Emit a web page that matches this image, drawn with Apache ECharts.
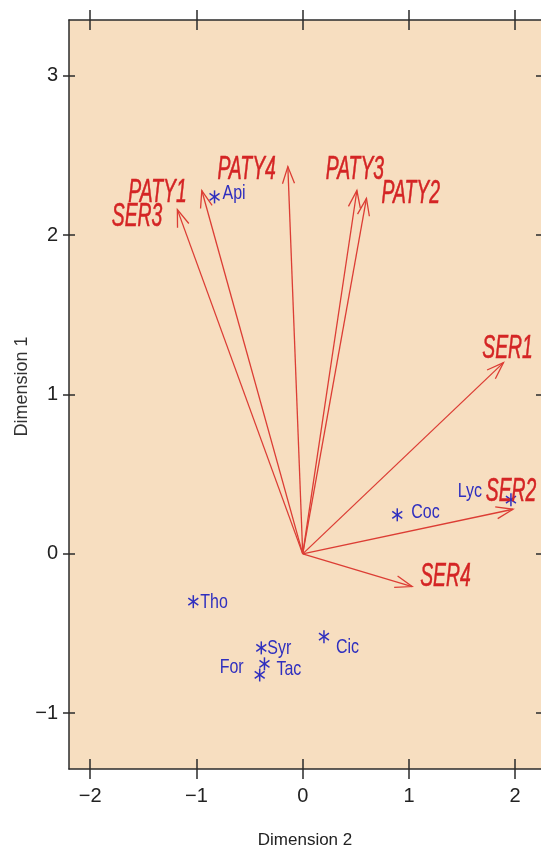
<!DOCTYPE html>
<html><head><meta charset="utf-8">
<script src="https://cdn.jsdelivr.net/npm/echarts@6/dist/echarts.min.js"></script>
<style>html,body{margin:0;padding:0;background:#fff}#c{width:541px;height:850px}</style>
</head><body><div id="c"></div>
<script>
// Variables (arrows): Dimension 2 = x, Dimension 1 = y
const varNames = ['SER1','SER2','SER3','SER4','PATY1','PATY2','PATY3','PATY4'];
const varDim2 = [1.89, 1.98, -1.18, 1.03, -0.95, 0.60, 0.51, -0.14];
const varDim1 = [1.20, 0.28, 2.16, -0.205, 2.28, 2.23, 2.28, 2.43];
// Species (points)
const spNames = ['Api','Tho','Syr','Tac','For','Cic','Coc','Lyc'];
const spDim2 = [-0.83, -1.03, -0.39, -0.36, -0.405, 0.20, 0.89, 1.96];
const spDim1 = [2.24, -0.30, -0.59, -0.69, -0.76, -0.52, 0.245, 0.34];
// Tick labels
const xTicks = [-2, -1, 0, 1, 2];
const yTicks = [-1, 0, 1, 2, 3];

// ---- styling / layout ----
const RED = '#dc3d34', RED_T = '#d42424', BLUE = '#2f2fbf', AX = '#2b2b2b';
const SANS = "'Liberation Sans',Arial,sans-serif";
const varLabelPos = {
  SER1: [4, -14, 'center'], SER2: [-2, -17, 'center'], SER3: [-15, 7, 'right'], SER4: [8, -10, 'left'],
  PATY1: [-15, 2, 'right'], PATY2: [15, -5, 'left'], PATY3: [-2, -21, 'center'], PATY4: [-12, 3, 'right']
};
const spLabelPos = {
  Api: [8, -4, 'left'], Tho: [7, 1, 'left'], Syr: [6, 0, 'left'], Tac: [12, 5, 'left'],
  For: [-16, -8, 'right'], Cic: [12, 11, 'left'], Coc: [14, -3, 'left'], Lyc: [-29, -8, 'right']
};
const X_MIN = -2.2, X_MAX = 2.243, Y_MIN = -1.35, Y_MAX = 3.35;
const minusFmt = v => String(v).replace('-', '\u2212');
const tickLS = {color: AX, width: 1.5};

function xAx(pos, inside, withLine, withLabel) {
  return {
    type: 'value', position: pos, min: X_MIN, max: X_MAX, splitLine: {show: false},
    axisLine: {show: withLine, onZero: false, lineStyle: {color: AX, width: 1.5}},
    axisTick: {show: true, inside: inside, length: 10, customValues: xTicks, lineStyle: tickLS},
    axisLabel: withLabel ? {show: true, customValues: xTicks, margin: 17, formatter: minusFmt,
      fontSize: 20, fontFamily: SANS, color: '#222'} : {show: false},
    name: withLabel ? 'Dimension 2' : '', nameLocation: 'middle', nameGap: 63, nameMoveOverlap: false,
    nameTextStyle: {fontSize: 17, fontFamily: SANS, color: '#222'}
  };
}
function yAx(pos, inside, withLine, withLabel, len) {
  return {
    type: 'value', position: pos, min: Y_MIN, max: Y_MAX, splitLine: {show: false},
    axisLine: {show: withLine, onZero: false, lineStyle: {color: AX, width: 1.5}},
    axisTick: {show: true, inside: inside, length: len, customValues: yTicks, lineStyle: tickLS},
    axisLabel: withLabel ? {show: true, customValues: yTicks, margin: 11, formatter: minusFmt,
      fontSize: 20, fontFamily: SANS, color: '#222'} : {show: false},
    name: withLabel ? 'Dimension 1' : '', nameLocation: 'middle', nameGap: 38, nameMoveOverlap: false,
    nameTextStyle: {fontSize: 18, fontFamily: SANS, color: '#333', padding: [0, 0, 0, 16]}
  };
}

function renderArrow(params, api) {
  const o = api.coord([0, 0]);
  const t = api.coord([api.value(0), api.value(1)]);
  const ang = Math.atan2(t[1] - o[1], t[0] - o[0]);
  const L = 18, A = 0.34;
  const p1 = [t[0] - L * Math.cos(ang - A), t[1] - L * Math.sin(ang - A)];
  const p2 = [t[0] - L * Math.cos(ang + A), t[1] - L * Math.sin(ang + A)];
  const name = varNames[params.dataIndex];
  const lp = varLabelPos[name];
  return {type: 'group', children: [
    {type: 'line', shape: {x1: o[0], y1: o[1], x2: t[0], y2: t[1]}, style: {stroke: RED, lineWidth: 1.3}},
    {type: 'polyline', shape: {points: [p1, t, p2]}, style: {stroke: RED, lineWidth: 1.3, fill: null}},
    {type: 'text', x: t[0] + lp[0], y: t[1] + lp[1], scaleX: 0.88, scaleY: 1.48,
      style: {x: 0, y: 0, text: name, fill: RED_T, fontSize: 22, fontStyle: 'italic',
        fontFamily: SANS, align: lp[2], verticalAlign: 'middle', stroke: RED_T, lineWidth: 0.4}}
  ]};
}
function renderSpecies(params, api) {
  const c = api.coord([api.value(0), api.value(1)]);
  const name = spNames[params.dataIndex];
  const lp = spLabelPos[name];
  const st = {stroke: BLUE, lineWidth: 1.5};
  return {type: 'group', children: [
    {type: 'text', x: c[0] + lp[0], y: c[1] + lp[1], scaleX: 1.0, scaleY: 1.3,
      style: {x: 0, y: 0, text: name, fill: BLUE, fontSize: 16, fontFamily: SANS,
        align: lp[2], verticalAlign: 'middle'}},
    {type: 'line', shape: {x1: c[0], y1: c[1] - 6.5, x2: c[0], y2: c[1] + 6.5}, style: st},
    {type: 'line', shape: {x1: c[0] - 5, y1: c[1] - 3.5, x2: c[0] + 5, y2: c[1] + 3.5}, style: st},
    {type: 'line', shape: {x1: c[0] - 5, y1: c[1] + 3.5, x2: c[0] + 5, y2: c[1] - 3.5}, style: st}
  ]};
}

const chart = echarts.init(document.getElementById('c'), null, {renderer: 'canvas'});
chart.setOption({
  animation: false,
  backgroundColor: '#fff',
  grid: {left: 69, right: 0, top: 20, bottom: 81, show: true, backgroundColor: '#f7dec0', borderWidth: 0,
    containLabel: false, outerBoundsMode: 'none'},
  xAxis: [xAx('bottom', false, true, true), xAx('top', false, true, false), xAx('bottom', true, false, false), xAx('top', true, false, false)],
  yAxis: [yAx('left', false, true, true, 6), yAx('left', true, false, false, 6), yAx('right', true, false, false, 5)],
  series: [
    {type: 'custom', renderItem: renderSpecies, clip: false,
      data: spDim2.map((x, i) => [x, spDim1[i]])},
    {type: 'custom', renderItem: renderArrow, clip: false,
      data: varDim2.map((x, i) => [x, varDim1[i]])}
  ]
});
</script></body></html>
